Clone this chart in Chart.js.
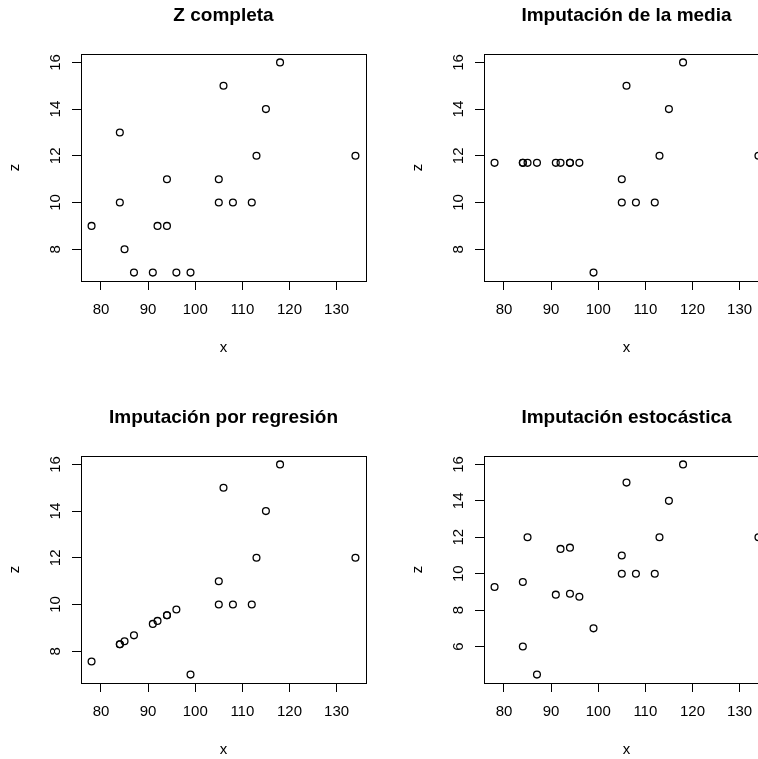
<!DOCTYPE html>
<html>
<head>
<meta charset="utf-8">
<script src="https://cdn.jsdelivr.net/npm/chart.js@4/dist/chart.umd.min.js"></script>
<style>
  html, body { margin: 0; padding: 0; background: #fff; overflow: hidden; }
  body { width: 758px; height: 759px; position: relative; }
  .cell { position: absolute; width: 403px; height: 402px; }
</style>
</head>
<body>
<div class="cell" style="left:0;top:0"><canvas id="c1" width="403" height="402"></canvas></div>
<div class="cell" style="left:403px;top:0"><canvas id="c2" width="403" height="402"></canvas></div>
<div class="cell" style="left:0;top:402px"><canvas id="c3" width="403" height="402"></canvas></div>
<div class="cell" style="left:403px;top:402px"><canvas id="c4" width="403" height="402"></canvas></div>
<script>
// x (same in every panel)
const xVals = [78, 84, 84, 85, 87, 91, 92, 94, 94, 96, 99, 105, 105, 106, 108, 112, 113, 115, 118, 134];
// z per panel
const zCompleta   = [9, 13, 10, 8, 7, 7, 9, 9, 11, 7, 7, 10, 11, 15, 10, 10, 12, 14, 16, 12];
const zMedia      = [11.7, 11.7, 11.7, 11.7, 11.7, 11.7, 11.7, 11.7, 11.7, 11.7, 7, 10, 11, 15, 10, 10, 12, 14, 16, 12];
const zRegresion  = [7.56, 8.30, 8.30, 8.43, 8.68, 9.17, 9.30, 9.54, 9.54, 9.79, 7, 10, 11, 15, 10, 10, 12, 14, 16, 12];
const zEstocastica = [9.27, 9.54, 6.0, 12.0, 4.46, 8.85, 11.36, 11.43, 8.90, 8.73, 7, 10, 11, 15, 10, 10, 12, 14, 16, 12];

const titles = ["Z completa", "Imputación de la media", "Imputación por regresión", "Imputación estocástica"];
const xTicks = [80, 90, 100, 110, 120, 130];
const yTicks = [8, 10, 12, 14, 16];
const yTicksEst = [6, 8, 10, 12, 14, 16];

const FONT = '"Liberation Sans", Arial, Helvetica, sans-serif';
Chart.defaults.font.family = FONT;
Chart.defaults.color = "#000";

// R style: 4% extension of the data range
function rRange(vals) {
  const lo = Math.min(...vals), hi = Math.max(...vals);
  const pad = (hi - lo) * 0.04;
  return { min: lo - pad, max: hi + pad };
}

// full box round the plot and y tick labels written along the axis
const rStyle = {
  id: "rStyle",
  afterDraw(chart) {
    const { ctx, chartArea: a, scales: { y } } = chart;
    ctx.save();
    ctx.strokeStyle = "#000";
    ctx.lineWidth = 1;
    ctx.strokeRect(a.left + 0.5, a.top + 0.5, a.right - a.left, a.bottom - a.top);
    ctx.fillStyle = "#000";
    ctx.font = "15px " + FONT;
    ctx.textAlign = "center";
    ctx.textBaseline = "alphabetic";
    y.ticks.forEach(t => {
      ctx.save();
      ctx.translate(a.left - 21, y.getPixelForValue(t.value));
      ctx.rotate(-Math.PI / 2);
      ctx.fillText(String(t.value), 0, 0);
      ctx.restore();
    });
    ctx.restore();
  }
};

function makePanel(id, title, zVals, tickList) {
  const xr = rRange(xVals);
  const yr = rRange(zVals);
  new Chart(document.getElementById(id), {
    type: "scatter",
    data: {
      datasets: [{
        data: xVals.map((x, i) => ({ x: x, y: zVals[i] })),
        pointStyle: "circle",
        pointRadius: 3.4,
        pointHoverRadius: 3.4,
        borderWidth: 1.3,
        borderColor: "#000",
        backgroundColor: "rgba(0,0,0,0)"
      }]
    },
    plugins: [rStyle],
    options: {
      responsive: false,
      animation: false,
      events: [],
      layout: { padding: { left: 6, top: 0, right: 37, bottom: 45 } },
      plugins: {
        legend: { display: false },
        tooltip: { enabled: false },
        title: {
          display: true,
          text: title,
          fullSize: false,
          color: "#000",
          font: { size: 19, weight: "bold", lineHeight: 1.2 },
          padding: { top: 4.6, bottom: 26.6 }
        }
      },
      scales: {
        x: {
          type: "linear",
          min: xr.min,
          max: xr.max,
          afterBuildTicks: s => { s.ticks = xTicks.map(v => ({ value: v })); },
          afterFit: s => { s.height = 76; },
          grid: { drawOnChartArea: false, drawTicks: true, tickLength: 9, color: "#000", lineWidth: 1 },
          border: { display: true, color: "#000", width: 1 },
          ticks: { autoSkip: false, maxRotation: 0, padding: 11, color: "#000", font: { size: 15 } },
          title: { display: true, text: "x", color: "#000", font: { size: 15 }, padding: 0 }
        },
        y: {
          type: "linear",
          min: yr.min,
          max: yr.max,
          afterBuildTicks: s => { s.ticks = tickList.map(v => ({ value: v })); },
          afterFit: s => { s.width = 75; },
          grid: { drawOnChartArea: false, drawTicks: true, tickLength: 9, color: "#000", lineWidth: 1 },
          border: { display: true, color: "#000", width: 1 },
          ticks: { display: false },
          title: { display: true, text: "z", color: "#000", font: { size: 15 }, padding: 0 }
        }
      }
    }
  });
}

makePanel("c1", titles[0], zCompleta, yTicks);
makePanel("c2", titles[1], zMedia, yTicks);
makePanel("c3", titles[2], zRegresion, yTicks);
makePanel("c4", titles[3], zEstocastica, yTicksEst);
</script>
</body>
</html>
